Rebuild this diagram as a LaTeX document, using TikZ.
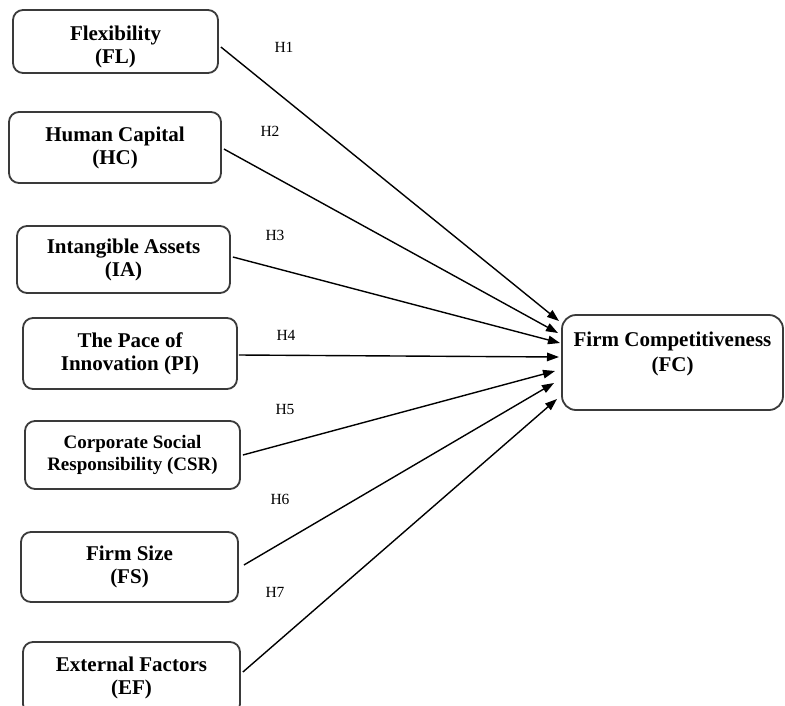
\documentclass[tikz,border=0pt]{standalone}
\usepackage{fontspec}
\setmainfont{Liberation Serif}
\usetikzlibrary{arrows.meta}
\definecolor{boxline}{HTML}{3A3A3A}
\begin{document}
\begin{tikzpicture}[x=1pt,y=-1pt,
  box/.style={draw=boxline, line width=1.8pt, rounded corners=10pt, fill=white,
    align=center, inner sep=0pt, font=\fontsize{21}{23}\selectfont\bfseries},
  hlabel/.style={font=\fontsize{15.5}{17}\selectfont, inner sep=0pt},
  arr/.style={line width=1.4pt, black, -{Triangle[length=12pt,width=8.5pt]}}]
\useasboundingbox[fill=white] (0,0) rectangle (785,705);

\node[box, minimum width=205pt, minimum height=63pt] (fl) at (115.5,41.5) {\rule{0pt}{25pt}Flexibility\\(FL)};
\node[box, minimum width=212pt, minimum height=71pt] (hc) at (115,147.5) {Human Capital\\(HC)};
\node[box, minimum width=213pt, minimum height=67pt] (ia) at (123.5,259.5) {Intangible Assets\\(IA)};
\node[box, minimum width=214pt, minimum height=71pt] (pi) at (130,353.5) {The Pace of\\Innovation (PI)};
\node[box, minimum width=215pt, minimum height=68pt, font=\fontsize{19}{22}\selectfont\bfseries] (csr) at (132.5,455) {Corporate Social\\Responsibility (CSR)};
\node[box, minimum width=217pt, minimum height=70pt] (fs) at (129.5,567) {Firm Size\\(FS)};
\node[box, minimum width=217pt, minimum height=72pt] (ef) at (131.5,678) {External Factors\\(EF)};

\node[box, rounded corners=14pt, minimum width=221pt, minimum height=95pt] (fc) at (672.5,362.5) {};
\node[box, draw=none, fill=none, font=\fontsize{21}{25}\selectfont\bfseries] (fct) at (672.5,354) {Firm Competitiveness\\(FC)};

\coordinate (t1) at (559,321);
\coordinate (t2) at (558,333);
\coordinate (t3) at (560,343);
\coordinate (t4) at (559,357);
\coordinate (t5) at (555,371);
\coordinate (t6) at (554,383);
\coordinate (t7) at (557,399);

\draw[arr] ([xshift=2pt,yshift=-5.5pt]fl.east) -- (t1);
\draw[arr] ([xshift=2pt,yshift=-1.5pt]hc.east) -- (t2);
\draw[arr] ([xshift=2pt,yshift=2.5pt]ia.east) -- (t3);
\draw[arr] ([xshift=1pt,yshift=-1.5pt]pi.east) -- (t4);
\draw[arr] ([xshift=2pt]csr.east) -- (t5);
\draw[arr] ([xshift=5pt,yshift=2pt]fs.east) -- (t6);
\draw[arr] ([xshift=2pt,yshift=6pt]ef.east) -- (t7);

\node[hlabel] (h1) at (284,47) {H1};
\node[hlabel] (h2) at (270,131) {H2};
\node[hlabel] (h3) at (275,235) {H3};
\node[hlabel] (h4) at (286,335) {H4};
\node[hlabel] (h5) at (285,409) {H5};
\node[hlabel] (h6) at (280,499) {H6};
\node[hlabel] (h7) at (275,592) {H7};
\end{tikzpicture}
\end{document}
